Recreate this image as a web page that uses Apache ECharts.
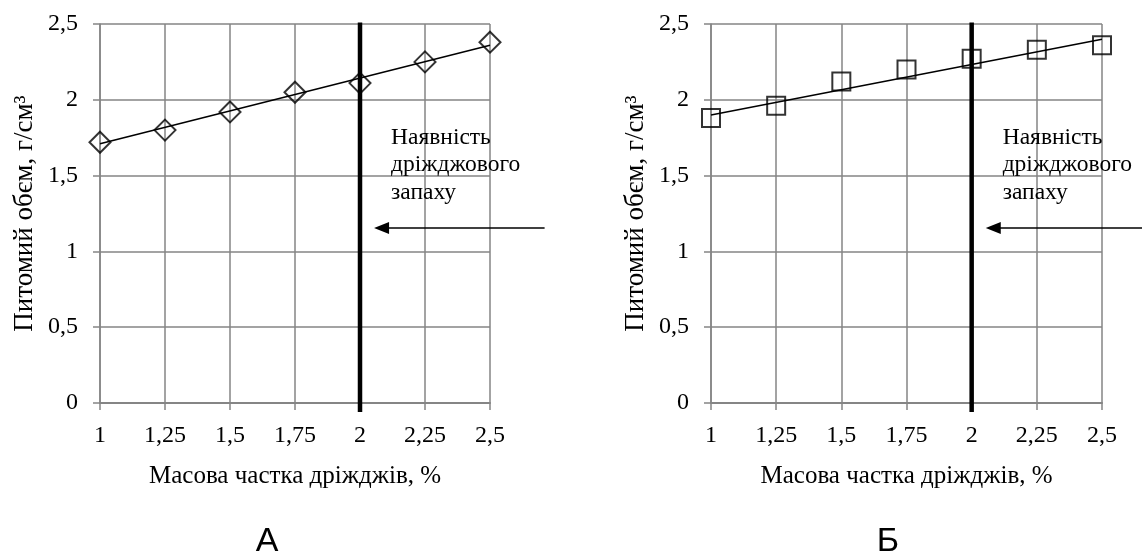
<!DOCTYPE html>
<html>
<head>
<meta charset="utf-8">
<script src="https://cdn.jsdelivr.net/npm/echarts@6/dist/echarts.min.js"></script>
<style>
  html, body { margin: 0; padding: 0; background: #fff; }
  #chart { width: 1142px; height: 555px; }
</style>
</head>
<body>
<div id="chart"></div>
<script>
// Yeast mass share, % (x values shared by both panels)
const yeastShare = [1, 1.25, 1.5, 1.75, 2, 2.25, 2.5];
// Specific volume, g/cm3 — panel А (diamonds) and panel Б (squares)
const volumeA = [1.72, 1.80, 1.92, 2.05, 2.11, 2.25, 2.38];
const volumeB = [1.88, 1.96, 2.12, 2.20, 2.27, 2.33, 2.36];
// Linear trend lines, end points [x, y]
const trendA = [[1, 1.71], [2.5, 2.36]];
const trendB = [[1, 1.90], [2.5, 2.40]];
// Threshold where yeast odour appears
const odourShare = 2;
const odourSpan = [-0.06, 2.51];
// Pointer arrows: tail x, tip x, level (axis units)
const arrowA = { tail: 2.71, tip: 2.054, level: 1.154 };
const arrowB = { tail: 2.72, tip: 2.054, level: 1.154 };
// Text
const xTitle = 'Масова частка дріжджів, %';
const yTitle = 'Питомий обєм, г/см³';
const noteLines = ['Наявність', 'дріжджового', 'запаху'];
const panelNames = ['А', 'Б'];

const SERIF = '"Liberation Serif", "Times New Roman", serif';
const SANS = '"Liberation Sans", Arial, sans-serif';
const GRID_COLOR = '#858585';
const fmt = v => String(v).replace('.', ',');

function xAxisCfg(gi) {
  return {
    type: 'value', gridIndex: gi, min: 1, max: 2.5, interval: 0.25,
    axisLine: { show: true, onZero: false, lineStyle: { color: GRID_COLOR, width: 2 } },
    axisTick: { show: true, length: 7, lineStyle: { color: GRID_COLOR, width: 1.5 } },
    axisLabel: { margin: 21, color: '#000', fontFamily: SERIF, fontSize: 24, formatter: fmt,
                 showMinLabel: true, showMaxLabel: true },
    splitLine: { show: true, lineStyle: { color: GRID_COLOR, width: 1.5 } },
    name: xTitle, nameLocation: 'middle', nameGap: 61,
    nameTextStyle: { color: '#000', fontFamily: SERIF, fontSize: 25 }
  };
}
function yAxisCfg(gi) {
  return {
    type: 'value', gridIndex: gi, min: 0, max: 2.5, interval: 0.5,
    axisLine: { show: true, onZero: false, lineStyle: { color: GRID_COLOR, width: 1.5 } },
    axisTick: { show: true, length: 7, lineStyle: { color: GRID_COLOR, width: 1.5 } },
    axisLabel: { margin: 22, color: '#000', fontFamily: SERIF, fontSize: 24, formatter: fmt },
    splitLine: { show: true, lineStyle: { color: GRID_COLOR, width: 1.5 } },
    name: yTitle, nameLocation: 'middle', nameGap: 62,
    nameTextStyle: { color: '#000', fontFamily: SERIF, fontSize: 27 }
  };
}

function panelSeries(gi, values, trend, symbol, size) {
  return [
    {
      type: 'line', xAxisIndex: gi, yAxisIndex: gi, data: trend,
      showSymbol: false, silent: true, z: 3,
      lineStyle: { color: '#000', width: 1.5 }
    },
    {
      type: 'scatter', xAxisIndex: gi, yAxisIndex: gi,
      data: yeastShare.map((x, i) => [x, values[i]]),
      symbol: symbol, symbolSize: size, z: 4,
      itemStyle: { color: 'rgba(0,0,0,0)', borderColor: '#000', borderWidth: 2 }
    },
    {
      type: 'line', xAxisIndex: gi, yAxisIndex: gi, clip: false, silent: true, z: 5,
      data: odourSpan.map(y => [odourShare, y]),
      showSymbol: false, lineStyle: { color: '#000', width: 4.5 }
    }
  ];
}

const chart = echarts.init(document.getElementById('chart'), null, { renderer: 'canvas' });
chart.setOption({
  animation: false,
  backgroundColor: '#fff',
  grid: [
    { left: 100, right: 652, top: 24, bottom: 152 },
    { left: 711, right: 40, top: 24, bottom: 152 }
  ],
  xAxis: [xAxisCfg(0), xAxisCfg(1)],
  yAxis: [yAxisCfg(0), yAxisCfg(1)],
  series: [
    ...panelSeries(0, volumeA, trendA, 'diamond', 21),
    ...panelSeries(1, volumeB, trendB, 'rect', 18)
  ]
});

// Annotation: note text and a pointer arrow, placed through each grid's axes
function annotation(gi, arrow) {
  const tail = chart.convertToPixel({ gridIndex: gi }, [arrow.tail, arrow.level]);
  const tip = chart.convertToPixel({ gridIndex: gi }, [arrow.tip, arrow.level]);
  const head = 15, half = 6;
  const textAt = chart.convertToPixel({ gridIndex: gi }, [odourShare, 2]);
  return [
    { type: 'line', z: 10, silent: true,
      shape: { x1: tail[0], y1: tail[1], x2: tip[0] + head - 1, y2: tip[1] },
      style: { stroke: '#000', lineWidth: 1.5 } },
    { type: 'polygon', z: 10, silent: true,
      shape: { points: [[tip[0], tip[1]], [tip[0] + head, tip[1] - half], [tip[0] + head, tip[1] + half]] },
      style: { fill: '#000' } },
    { type: 'text', z: 10, silent: true, x: textAt[0] + 31, y: 124,
      style: { text: noteLines.join('\n'), fill: '#000', font: '23.5px ' + SERIF, lineHeight: 27.5 } }
  ];
}

chart.setOption({
  graphic: [
    ...annotation(0, arrowA),
    ...annotation(1, arrowB),
    { type: 'text', x: 267, y: 525, silent: true,
      style: { text: panelNames[0], fill: '#000', font: '34px ' + SANS, align: 'center' } },
    { type: 'text', x: 888, y: 525, silent: true,
      style: { text: panelNames[1], fill: '#000', font: '34px ' + SANS, align: 'center' } }
  ]
});
</script>
</body>
</html>
